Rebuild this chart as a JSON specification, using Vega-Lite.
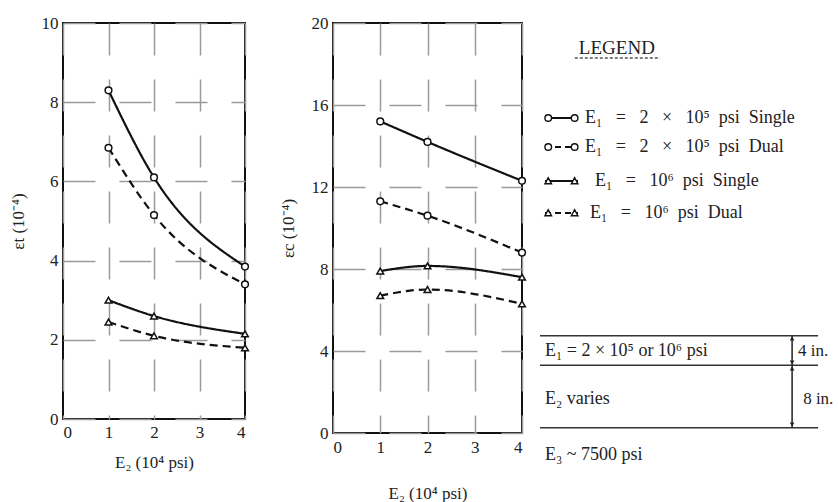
{
  "$schema": "https://vega.github.io/schema/vega-lite/v6.json",
  "background": "white",
  "padding": {"left": 8, "top": 13, "right": 0, "bottom": 0},
  "config": {
    "font": "Liberation Serif",
    "view": {"stroke": "#111", "strokeWidth": 2},
    "axis": {
      "labelFont": "Liberation Serif", "titleFont": "Liberation Serif",
      "labelFontSize": 17, "titleFontSize": 17, "titleFontWeight": "normal",
      "labelColor": "#222", "titleColor": "#222",
      "domain": false, "ticks": false,
      "gridColor": "#9a9a9a", "gridDash": [32, 24], "gridWidth": 1.5
    }
  },
  "datasets": {
    "tensile": [
      {"E2": 1, "strain": 8.3, "E1": "2 × 10⁵ psi", "gear": "Single"},
      {"E2": 2, "strain": 6.1, "E1": "2 × 10⁵ psi", "gear": "Single"},
      {"E2": 4, "strain": 3.85, "E1": "2 × 10⁵ psi", "gear": "Single"},
      {"E2": 1, "strain": 6.85, "E1": "2 × 10⁵ psi", "gear": "Dual"},
      {"E2": 2, "strain": 5.15, "E1": "2 × 10⁵ psi", "gear": "Dual"},
      {"E2": 4, "strain": 3.4, "E1": "2 × 10⁵ psi", "gear": "Dual"},
      {"E2": 1, "strain": 3.0, "E1": "10⁶ psi", "gear": "Single"},
      {"E2": 2, "strain": 2.6, "E1": "10⁶ psi", "gear": "Single"},
      {"E2": 4, "strain": 2.15, "E1": "10⁶ psi", "gear": "Single"},
      {"E2": 1, "strain": 2.45, "E1": "10⁶ psi", "gear": "Dual"},
      {"E2": 2, "strain": 2.1, "E1": "10⁶ psi", "gear": "Dual"},
      {"E2": 4, "strain": 1.8, "E1": "10⁶ psi", "gear": "Dual"}
    ],
    "compressive": [
      {"E2": 1, "strain": 15.2, "E1": "2 × 10⁵ psi", "gear": "Single"},
      {"E2": 2, "strain": 14.2, "E1": "2 × 10⁵ psi", "gear": "Single"},
      {"E2": 4, "strain": 12.3, "E1": "2 × 10⁵ psi", "gear": "Single"},
      {"E2": 1, "strain": 11.3, "E1": "2 × 10⁵ psi", "gear": "Dual"},
      {"E2": 2, "strain": 10.6, "E1": "2 × 10⁵ psi", "gear": "Dual"},
      {"E2": 4, "strain": 8.8, "E1": "2 × 10⁵ psi", "gear": "Dual"},
      {"E2": 1, "strain": 7.9, "E1": "10⁶ psi", "gear": "Single"},
      {"E2": 2, "strain": 8.15, "E1": "10⁶ psi", "gear": "Single"},
      {"E2": 4, "strain": 7.6, "E1": "10⁶ psi", "gear": "Single"},
      {"E2": 1, "strain": 6.7, "E1": "10⁶ psi", "gear": "Dual"},
      {"E2": 2, "strain": 7.0, "E1": "10⁶ psi", "gear": "Dual"},
      {"E2": 4, "strain": 6.3, "E1": "10⁶ psi", "gear": "Dual"}
    ]
  },
  "bounds": "flush",
  "spacing": 88,
  "hconcat": [
    {
      "width": 182, "height": 396,
      "data": {"name": "tensile"},
      "layer": [
        {
          "mark": {"type": "line", "interpolate": "monotone", "strokeWidth": 2.2, "color": "#111"},
          "encoding": {
            "x": {"field": "E2", "type": "quantitative", "scale": {"domain": [0, 4], "nice": false},
                  "axis": {"values": [0, 1, 2, 3, 4], "title": "E₂ (10⁴ psi)", "labelPadding": 5, "titlePadding": 14}},
            "y": {"field": "strain", "type": "quantitative", "scale": {"domain": [0, 10], "nice": false},
                  "axis": {"values": [0, 2, 4, 6, 8, 10], "title": "εt (10⁻⁴)", "labelPadding": 5, "titlePadding": 14}},
            "detail": [{"field": "E1"}, {"field": "gear"}],
            "strokeDash": {"field": "gear", "type": "nominal",
                           "scale": {"domain": ["Single", "Dual"], "range": [[1, 0], [8, 5]]}, "legend": null}
          }
        },
        {
          "mark": {"type": "point", "filled": true, "fill": "white", "stroke": "#111", "strokeWidth": 1.5, "size": 45, "opacity": 1},
          "encoding": {
            "x": {"field": "E2", "type": "quantitative"},
            "y": {"field": "strain", "type": "quantitative"},
            "shape": {"field": "E1", "type": "nominal",
                      "scale": {"domain": ["2 × 10⁵ psi", "10⁶ psi"], "range": ["circle", "triangle-up"]}, "legend": null}
          }
        }
      ]
    },
    {
      "width": 189, "height": 410,
      "data": {"name": "compressive"},
      "layer": [
        {
          "mark": {"type": "line", "interpolate": "monotone", "strokeWidth": 2.2, "color": "#111"},
          "encoding": {
            "x": {"field": "E2", "type": "quantitative", "scale": {"domain": [0, 4], "nice": false},
                  "axis": {"values": [0, 1, 2, 3, 4], "title": "E₂ (10⁴ psi)", "labelPadding": 6, "titlePadding": 30}},
            "y": {"field": "strain", "type": "quantitative", "scale": {"domain": [0, 20], "nice": false},
                  "axis": {"values": [0, 4, 8, 12, 16, 20], "title": "εc (10⁻⁴)", "labelPadding": 5, "titlePadding": 14}},
            "detail": [{"field": "E1"}, {"field": "gear"}],
            "strokeDash": {"field": "gear", "type": "nominal",
                           "scale": {"domain": ["Single", "Dual"], "range": [[1, 0], [8, 5]]}, "legend": null}
          }
        },
        {
          "mark": {"type": "point", "filled": true, "fill": "white", "stroke": "#111", "strokeWidth": 1.5, "size": 45, "opacity": 1},
          "encoding": {
            "x": {"field": "E2", "type": "quantitative"},
            "y": {"field": "strain", "type": "quantitative"},
            "shape": {"field": "E1", "type": "nominal",
                      "scale": {"domain": ["2 × 10⁵ psi", "10⁶ psi"], "range": ["circle", "triangle-up"]}, "legend": null}
          }
        }
      ]
    },
    {
      "width": 228, "height": 460,
      "view": {"stroke": null},
      "data": {"values": [{}]},
      "layer": [
        {
          "mark": {"type": "text", "text": "LEGEND", "fontSize": 19, "align": "center", "baseline": "middle", "color": "#222"},
          "encoding": {
            "x": {"datum": 25.8, "type": "quantitative", "scale": {"domain": [23.5, 100], "nice": false, "zero": false}, "axis": null},
            "y": {"datum": 5.4, "type": "quantitative", "scale": {"domain": [0, 100], "nice": false, "zero": false, "reverse": true}, "axis": null}
          }
        },
        {
          "mark": {"type": "rule", "strokeDash": [3, 2], "strokeWidth": 1.5, "color": "#555"},
          "encoding": {"x": {"datum": 11.7, "type": "quantitative"}, "x2": {"datum": 40.3}, "y": {"datum": 7.6, "type": "quantitative"}}
        },
        {
          "mark": {"type": "rule", "strokeWidth": 2, "color": "#111"},
          "encoding": {"x": {"datum": 1.7, "type": "quantitative"}, "x2": {"datum": 12.75}, "y": {"datum": 20.65, "type": "quantitative"}}
        },
        {
          "mark": {"type": "rule", "strokeWidth": 2, "color": "#111", "strokeDash": [6, 4]},
          "encoding": {"x": {"datum": 1.7, "type": "quantitative"}, "x2": {"datum": 12.75}, "y": {"datum": 26.96, "type": "quantitative"}}
        },
        {
          "mark": {"type": "rule", "strokeWidth": 2, "color": "#111"},
          "encoding": {"x": {"datum": 1.7, "type": "quantitative"}, "x2": {"datum": 12.75}, "y": {"datum": 34.35, "type": "quantitative"}}
        },
        {
          "mark": {"type": "rule", "strokeWidth": 2, "color": "#111", "strokeDash": [6, 4]},
          "encoding": {"x": {"datum": 1.7, "type": "quantitative"}, "x2": {"datum": 12.75}, "y": {"datum": 41.3, "type": "quantitative"}}
        },
        {
          "mark": {"type": "point", "shape": "M-1,0A0.2,0.2,0,1,1,-0.6,0A0.2,0.2,0,1,1,-1,0ZM0.6,0A0.2,0.2,0,1,1,1,0A0.2,0.2,0,1,1,0.6,0Z", "size": 1089, "filled": true, "fill": "white", "stroke": "#111", "strokeWidth": 1.4, "opacity": 1},
          "encoding": {"x": {"datum": 7.2, "type": "quantitative"}, "y": {"datum": 20.65, "type": "quantitative"}}
        },
        {
          "mark": {"type": "point", "shape": "M-1,0A0.2,0.2,0,1,1,-0.6,0A0.2,0.2,0,1,1,-1,0ZM0.6,0A0.2,0.2,0,1,1,1,0A0.2,0.2,0,1,1,0.6,0Z", "size": 1089, "filled": true, "fill": "white", "stroke": "#111", "strokeWidth": 1.4, "opacity": 1},
          "encoding": {"x": {"datum": 7.2, "type": "quantitative"}, "y": {"datum": 26.96, "type": "quantitative"}}
        },
        {
          "mark": {"type": "point", "shape": "M-1,0.17L-0.8,-0.2L-0.6,0.17ZM0.6,0.17L0.8,-0.2L1,0.17Z", "size": 1089, "filled": true, "fill": "white", "stroke": "#111", "strokeWidth": 1.4, "opacity": 1},
          "encoding": {"x": {"datum": 7.2, "type": "quantitative"}, "y": {"datum": 34.35, "type": "quantitative"}}
        },
        {
          "mark": {"type": "point", "shape": "M-1,0.17L-0.8,-0.2L-0.6,0.17ZM0.6,0.17L0.8,-0.2L1,0.17Z", "size": 1089, "filled": true, "fill": "white", "stroke": "#111", "strokeWidth": 1.4, "opacity": 1},
          "encoding": {"x": {"datum": 7.2, "type": "quantitative"}, "y": {"datum": 41.3, "type": "quantitative"}}
        },
        {
          "mark": {"type": "text", "text": "E₁\u00a0\u00a0\u00a0=\u00a0\u00a0\u00a02\u00a0\u00a0\u00a0×\u00a0\u00a0\u00a010⁵\u00a0\u00a0psi\u00a0\u00a0Single", "fontSize": 18, "align": "left", "baseline": "middle", "color": "#222"},
          "encoding": {"x": {"datum": 15.1, "type": "quantitative"}, "y": {"datum": 20.65, "type": "quantitative"}}
        },
        {
          "mark": {"type": "text", "text": "E₁\u00a0\u00a0\u00a0=\u00a0\u00a0\u00a02\u00a0\u00a0\u00a0×\u00a0\u00a0\u00a010⁵\u00a0\u00a0psi\u00a0\u00a0Dual", "fontSize": 18, "align": "left", "baseline": "middle", "color": "#222"},
          "encoding": {"x": {"datum": 15.1, "type": "quantitative"}, "y": {"datum": 26.96, "type": "quantitative"}}
        },
        {
          "mark": {"type": "text", "text": "E₁\u00a0\u00a0\u00a0=\u00a0\u00a0\u00a010⁶\u00a0\u00a0psi\u00a0\u00a0Single", "fontSize": 18, "align": "left", "baseline": "middle", "color": "#222"},
          "encoding": {"x": {"datum": 18.5, "type": "quantitative"}, "y": {"datum": 34.35, "type": "quantitative"}}
        },
        {
          "mark": {"type": "text", "text": "E₁\u00a0\u00a0\u00a0=\u00a0\u00a0\u00a010⁶\u00a0\u00a0psi\u00a0\u00a0Dual", "fontSize": 18, "align": "left", "baseline": "middle", "color": "#222"},
          "encoding": {"x": {"datum": 16.8, "type": "quantitative"}, "y": {"datum": 41.3, "type": "quantitative"}}
        },
        {
          "mark": {"type": "rule", "strokeWidth": 1.5, "color": "#333"},
          "encoding": {"x": {"datum": 0, "type": "quantitative"}, "x2": {"datum": 93.3}, "y": {"datum": 68.0, "type": "quantitative"}}
        },
        {
          "mark": {"type": "rule", "strokeWidth": 1.5, "color": "#333"},
          "encoding": {"x": {"datum": 0, "type": "quantitative"}, "x2": {"datum": 93.3}, "y": {"datum": 74.4, "type": "quantitative"}}
        },
        {
          "mark": {"type": "rule", "strokeWidth": 1.5, "color": "#333"},
          "encoding": {"x": {"datum": 0, "type": "quantitative"}, "x2": {"datum": 93.3}, "y": {"datum": 88.0, "type": "quantitative"}}
        },
        {
          "mark": {"type": "rule", "strokeWidth": 1.5, "color": "#222"},
          "encoding": {"x": {"datum": 84.6, "type": "quantitative"}, "y": {"datum": 68.0, "type": "quantitative"}, "y2": {"datum": 88.0}}
        },
        {
          "mark": {"type": "point", "shape": "triangle-up", "size": 22, "filled": true, "color": "#222", "opacity": 1},
          "encoding": {"x": {"datum": 84.6, "type": "quantitative"}, "y": {"datum": 68.6, "type": "quantitative"}}
        },
        {
          "mark": {"type": "point", "shape": "triangle-down", "size": 22, "filled": true, "color": "#222", "opacity": 1},
          "encoding": {"x": {"datum": 84.6, "type": "quantitative"}, "y": {"datum": 73.8, "type": "quantitative"}}
        },
        {
          "mark": {"type": "point", "shape": "triangle-up", "size": 22, "filled": true, "color": "#222", "opacity": 1},
          "encoding": {"x": {"datum": 84.6, "type": "quantitative"}, "y": {"datum": 75.1, "type": "quantitative"}}
        },
        {
          "mark": {"type": "point", "shape": "triangle-down", "size": 22, "filled": true, "color": "#222", "opacity": 1},
          "encoding": {"x": {"datum": 84.6, "type": "quantitative"}, "y": {"datum": 87.3, "type": "quantitative"}}
        },
        {
          "mark": {"type": "text", "text": "E₁ = 2 × 10⁵ or 10⁶ psi", "fontSize": 18, "align": "left", "baseline": "middle", "color": "#222"},
          "encoding": {"x": {"datum": 1.7, "type": "quantitative"}, "y": {"datum": 71.2, "type": "quantitative"}}
        },
        {
          "mark": {"type": "text", "text": "4 in.", "fontSize": 17, "align": "left", "baseline": "middle", "color": "#222"},
          "encoding": {"x": {"datum": 86.6, "type": "quantitative"}, "y": {"datum": 71.2, "type": "quantitative"}}
        },
        {
          "mark": {"type": "text", "text": "E₂ varies", "fontSize": 18, "align": "left", "baseline": "middle", "color": "#222"},
          "encoding": {"x": {"datum": 1.7, "type": "quantitative"}, "y": {"datum": 81.8, "type": "quantitative"}}
        },
        {
          "mark": {"type": "text", "text": "8 in.", "fontSize": 17, "align": "left", "baseline": "middle", "color": "#222"},
          "encoding": {"x": {"datum": 88.3, "type": "quantitative"}, "y": {"datum": 81.8, "type": "quantitative"}}
        },
        {
          "mark": {"type": "text", "text": "E₃ ~ 7500 psi", "fontSize": 18, "align": "left", "baseline": "middle", "color": "#222"},
          "encoding": {"x": {"datum": 1.7, "type": "quantitative"}, "y": {"datum": 94.0, "type": "quantitative"}}
        }
      ]
    }
  ]
}
